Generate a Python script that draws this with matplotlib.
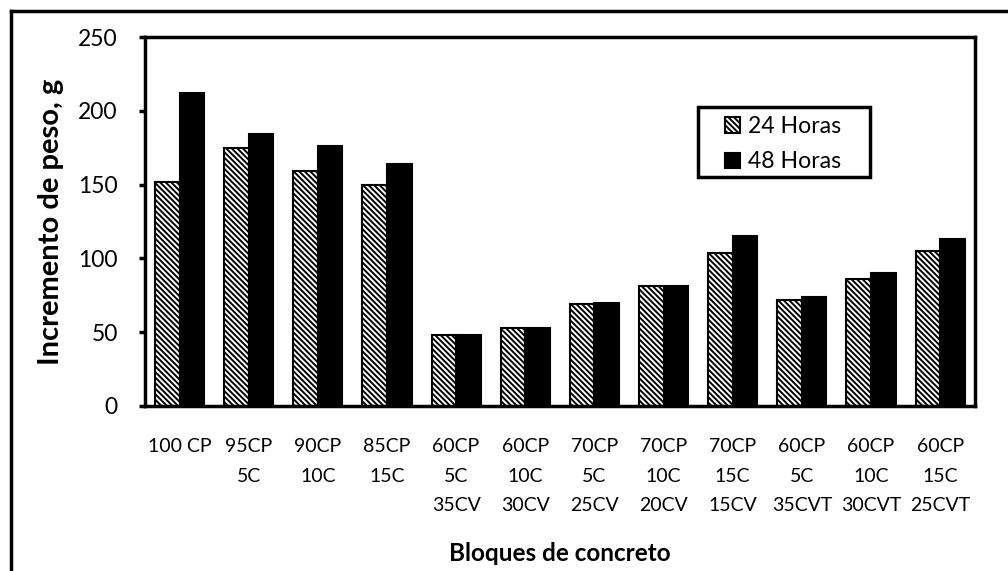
import matplotlib
matplotlib.use('Agg')
import matplotlib.pyplot as plt
import numpy as np
from matplotlib.lines import Line2D
from matplotlib.patches import Rectangle

plt.rcParams['font.family'] = ['Lato', 'DejaVu Sans']
plt.rcParams['hatch.linewidth'] = 1.4

bloques = ['100 CP', '95CP\n5C', '90CP\n10C', '85CP\n15C', '60CP\n5C\n35CV',
           '60CP\n10C\n30CV', '70CP\n5C\n25CV', '70CP\n10C\n20CV', '70CP\n15C\n15CV',
           '60CP\n5C\n35CVT', '60CP\n10C\n30CVT', '60CP\n15C\n25CVT']
horas_24 = [152, 175, 159, 150, 48, 53, 69, 81, 104, 72, 86, 105]
horas_48 = [212, 184, 176, 164, 48, 53, 70, 81, 115, 74, 90, 113]

fig = plt.figure(figsize=(10.08, 5.71), dpi=100)
ax = fig.add_axes([0.1438, 0.289, 0.967 - 0.1438, 0.935 - 0.289])

x = np.arange(len(bloques))
w = 0.355
ax.bar(x - w / 2, horas_24, w, color='white', edgecolor='black', hatch='\\\\\\\\\\\\',
       linewidth=1.5, label='24 Horas')
ax.bar(x + w / 2, horas_48, w, color='black', edgecolor='black', linewidth=1.5,
       label='48 Horas')

ax.set_xlim(-0.5, len(bloques) - 0.5)
ax.set_ylim(0, 250)
ax.set_yticks([0, 50, 100, 150, 200, 250])
ax.set_xticks(x)
ax.set_xticklabels(bloques, fontsize=14, linespacing=1.9, va='top')
ax.tick_params(axis='x', length=0, pad=23)
ax.tick_params(axis='y', labelsize=16.5, length=4.5, width=2.5, direction='out', pad=15)
for s in ax.spines.values():
    s.set_linewidth(2.5)

ax.set_xlabel('Bloques de concreto', fontsize=17.5, fontweight='bold', labelpad=20)
ax.set_ylabel('Incremento de peso, g', fontsize=21, fontweight='bold', labelpad=10)

leg = ax.legend(loc='upper left', bbox_to_anchor=(725 / 1008, 1 - 116 / 571),
                bbox_transform=fig.transFigure, borderaxespad=0, borderpad=0,
                fontsize=16.6, frameon=False, handlelength=0.65, handleheight=0.65,
                handletextpad=0.35, labelspacing=0.62)

# recuadro de la leyenda
fig.add_artist(Rectangle((698 / 1008, 1 - 177 / 571), 172 / 1008, 70 / 571,
                         transform=fig.transFigure, fill=False, edgecolor='black', lw=2.5))

# marco exterior
fig.add_artist(Line2D([0.0105, 0.0105], [0, 0.981], color='black', lw=2.5))
fig.add_artist(Line2D([0.0105, 1.0], [0.981, 0.981], color='black', lw=2.5))

plt.savefig('out.png', dpi=100)
